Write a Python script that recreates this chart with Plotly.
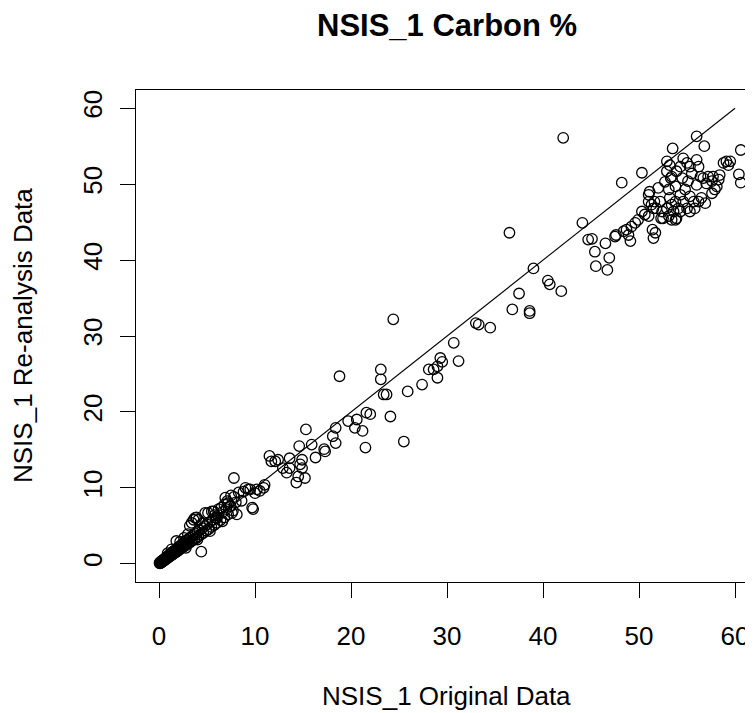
import plotly.graph_objects as go

# ---- data ----
low_orig = [0.05,0.10,0.12,0.15,0.18,0.20,0.22,0.25,0.28,0.30,0.33,0.35,0.38,0.40,0.42,0.45,0.48,0.50,0.53,0.55,
            0.58,0.60,0.63,0.66,0.70,0.72,0.75,0.78,0.80,0.84,0.88,0.90,0.93,0.97,1.00,1.04,1.08,1.10,1.15,1.20,
            1.22,1.27,1.30,1.35,1.40,1.43,1.48,1.50,1.55,1.60,1.64,1.70,1.75,1.80,1.86,1.90,1.95,2.00,2.05,2.10,
            2.18,2.25,2.30,2.37,2.45,2.50,2.58,2.65,2.70,2.80,2.85,2.95,3.00,3.10,3.20,3.25,3.35,3.45,3.50,3.60,
            3.70,3.80,3.90,4.00,4.10,4.20,4.35,4.50,4.60,4.75,4.90,5.00,5.15,5.30,5.45,5.60,5.75,5.90,6.05,6.20,
            6.40,6.60,6.80,7.00,7.20,7.45,7.70,8.00,
            1.8,3.75,4.1,3.4,3.9,3.6,3.2,5.1,5.7,6.2,4.8,5.5,6.9,7.1,7.4,7.2,4.4,8.1,8.6,2.6,
            2.2,1.3,0.9,3.0,4.5,5.8,6.5,7.8,8.3,6.6,7.6,5.3,4.0,2.8,6.0,6.8,7.5,8.8,9.3]
low_reanalysis = [0.10,0.05,0.18,0.10,0.22,0.15,0.30,0.20,0.25,0.38,0.28,0.40,0.30,0.45,0.36,0.50,0.40,0.55,0.45,0.62,
                  0.50,0.66,0.55,0.72,0.60,0.80,0.66,0.84,0.70,0.90,0.78,0.98,0.82,1.05,0.88,1.12,0.95,1.20,1.02,1.30,
                  1.08,1.35,1.15,1.45,1.22,1.55,1.30,1.62,1.38,1.72,1.45,1.80,1.55,1.92,1.62,2.05,1.72,2.15,1.80,2.25,
                  1.92,2.40,2.02,2.55,2.15,2.70,2.28,2.85,2.40,3.00,2.50,3.15,2.65,3.30,2.80,3.45,2.95,3.65,3.10,3.80,
                  3.25,4.00,3.40,4.20,3.60,4.40,3.85,4.70,4.05,4.95,4.35,5.20,4.55,5.50,4.85,5.80,5.10,6.10,5.40,6.40,
                  5.75,6.80,6.10,7.20,6.50,7.60,7.00,8.10,
                  3.0,6.05,5.8,5.4,6.1,5.8,5.0,6.7,6.9,7.2,6.7,6.9,8.7,8.25,7.6,8.0,1.6,6.5,8.3,3.4,
                  2.9,1.9,1.4,3.9,5.3,6.4,7.4,8.8,9.4,5.6,6.7,4.3,3.2,2.1,6.0,7.8,9.0,9.5,9.8]

mid_orig = [7.8,9.0,9.5,10.2,11.0,10.9,10.5,10.0,9.7,9.8,
            11.5,11.7,12.1,12.4,12.9,13.3,13.6,13.6,14.3,15.2,14.5,14.9,14.7,14.9,14.6,15.3,15.9,16.3,17.2,17.3,
            18.4,18.1,18.4,18.8,19.7,20.6,20.4,21.2,21.6,22.0,21.5,24.1,25.5,23.1,23.1,23.4,23.7,24.4,25.9,27.4,
            28.1,28.6,29.0,29.3,29.5,29.0,30.7,31.2,33.0,33.3,34.5,36.5,36.8,37.5,38.6,38.6,39.0,40.5,40.7,41.9,
            42.1,44.1,44.7]
mid_reanalysis = [11.3,10.0,9.8,9.8,10.4,10.0,9.6,9.3,7.4,7.2,
                  14.2,13.5,13.5,13.7,12.6,12.0,12.6,13.9,10.7,11.3,11.5,12.6,13.1,13.7,15.5,17.7,15.7,14.0,15.1,14.8,
                  15.9,16.8,17.9,24.7,18.8,19.0,17.9,17.5,19.9,19.7,15.3,19.4,16.1,25.6,24.3,22.3,22.3,32.2,22.7,23.6,
                  25.6,25.6,26.0,27.1,26.6,24.5,29.1,26.7,31.7,31.5,31.1,43.6,33.5,35.6,33.3,33.0,38.9,37.3,36.8,35.9,
                  56.1,44.9,42.7]

high_orig = [45.1,45.4,45.5,46.7,46.5,46.9,47.5,47.6,48.4,48.9,49.1,48.7,48.2,50.3,49.2,49.6,49.9,50.3,50.6,51.0,
             51.1,51.3,51.5,51.6,51.4,51.5,51.7,52.7,53.1,53.2,53.4,52.9,53.6,53.1,53.9,53.8,54.1,54.3,53.8,53.3,
             53.9,53.2,52.9,53.4,53.5,54.6,55.0,55.3,55.5,55.1,54.8,55.3,55.7,55.8,55.3,56.0,56.0,56.2,56.4,56.0,
             56.8,56.9,56.7,57.0,57.2,57.6,57.7,58.1,57.9,57.6,58.3,58.4,58.8,59.1,59.5,59.3,60.4,60.6,60.6,51.0,
             51.0,52.0,52.2,52.4,51.8,52.5,53.4,53.8,52.3,52.9,54.3,54.5,54.6,55.0,54.3,56.2,56.5]
high_reanalysis = [42.8,41.1,39.2,38.7,42.2,40.3,43.1,43.3,43.8,43.3,42.5,44.0,50.2,51.5,44.4,44.9,45.3,46.4,46.0,45.8,
                   49.0,47.3,46.8,47.7,44.0,42.9,43.6,50.3,49.3,48.2,47.3,46.8,46.4,45.8,45.5,47.7,46.8,48.6,49.7,50.8,
                   51.7,52.5,53.0,51.0,54.7,53.4,52.8,52.3,51.4,50.4,49.3,48.4,47.7,46.8,46.4,49.9,53.2,52.3,51.0,56.3,
                   55.0,47.5,50.8,50.1,51.0,50.4,51.0,49.7,49.3,48.8,50.6,51.2,52.8,53.0,53.0,52.5,51.3,50.2,54.5,48.6,
                   47.7,49.5,47.7,46.4,46.8,45.5,45.3,45.3,45.5,51.7,52.3,50.8,47.7,46.8,46.4,47.7,48.2]

line_x = [0, 60]
line_y = [0, 60]

title_text = "NSIS_1 Carbon %"
x_title = "NSIS_1 Original Data"
y_title = "NSIS_1 Re-analysis Data"
tick_vals = [0, 10, 20, 30, 40, 50, 60]

orig = low_orig + mid_orig + high_orig
rean = low_reanalysis + mid_reanalysis + high_reanalysis

FONT = "Liberation Sans, Arial, sans-serif"

fig = go.Figure()
fig.add_trace(go.Scatter(
    x=orig, y=rean, mode="markers",
    marker=dict(symbol="circle-open", size=10.5, color="black", line=dict(width=1.3, color="black")),
    showlegend=False, hoverinfo="x+y"))
fig.add_trace(go.Scatter(
    x=line_x, y=line_y, mode="lines", line=dict(color="black", width=1.1),
    showlegend=False, hoverinfo="skip"))

# page has an 8px body margin; figure is sized so the page is 753x713
OFF = 8
W, H = 753 - OFF, 713 - OFF
L, R, T = 136 - OFF, 0, 90 - OFF
B = H - (582 - OFF)
pw = W - L - R
ph = H - T - B
xpx = 9.6  # px per unit
x0 = -2.4
x1 = x0 + pw / xpx

def px_x(page_x):
    return (page_x - OFF - L) / pw

def px_y(page_y):
    return (H - B - (page_y - OFF)) / ph

fig.update_layout(
    width=W, height=H,
    margin=dict(l=L, r=R, t=T, b=B, pad=0),
    paper_bgcolor="white", plot_bgcolor="white",
    font=dict(family=FONT, size=26, color="black"),
    xaxis=dict(range=[x0, x1], tickmode="array", tickvals=tick_vals,
               ticks="outside", ticklen=15, tickwidth=1, tickcolor="black",
               ticklabelstandoff=16,
               showline=True, linecolor="black", linewidth=1, mirror=True,
               showgrid=False, zeroline=False, tickfont=dict(size=26, family=FONT)),
    yaxis=dict(range=[-2.4, 62.4], tickmode="array", tickvals=tick_vals,
               ticks="outside", ticklen=15, tickwidth=1, tickcolor="black",
               ticklabelstandoff=8,
               showline=True, linecolor="black", linewidth=1, mirror=False,
               showgrid=False, zeroline=False, tickangle=-90,
               tickfont=dict(size=26, family=FONT)),
    annotations=[
        dict(text="<b>" + title_text + "</b>", xref="paper", yref="paper",
             x=px_x(446.5), y=px_y(26), showarrow=False,
             xanchor="center", yanchor="middle", font=dict(size=31, family=FONT)),
        dict(text=x_title, xref="paper", yref="paper",
             x=px_x(446.5), y=px_y(696), showarrow=False,
             xanchor="center", yanchor="middle", font=dict(size=26, family=FONT)),
        dict(text=y_title, xref="paper", yref="paper",
             x=px_x(23), y=0.5, showarrow=False, textangle=-90,
             xanchor="center", yanchor="middle", font=dict(size=26, family=FONT)),
    ],
)

fig.write_html("out.html")
